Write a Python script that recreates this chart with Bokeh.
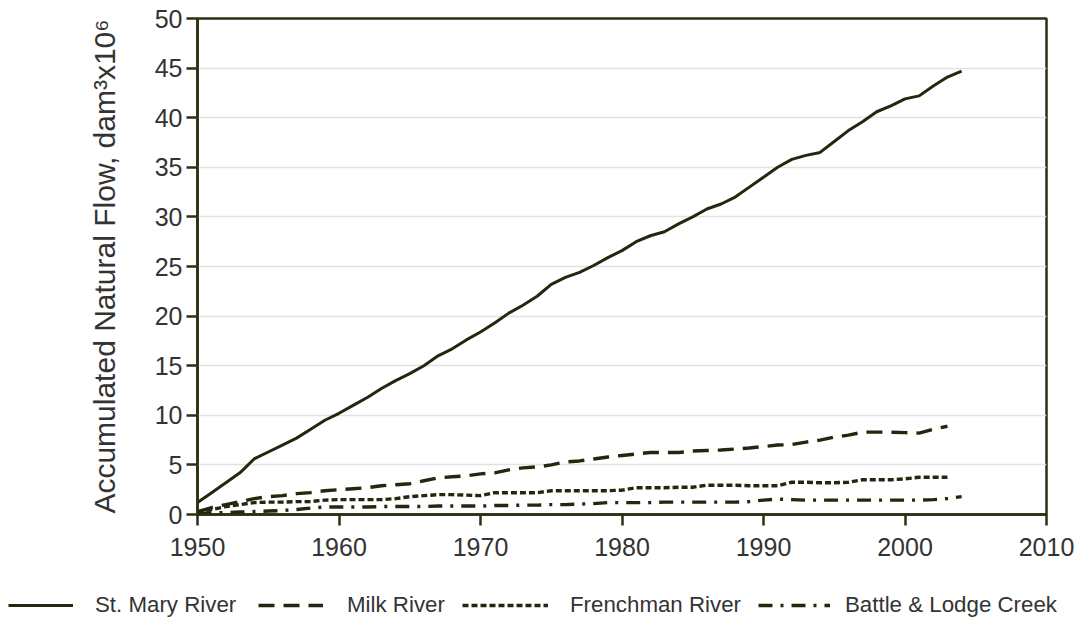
from bokeh.plotting import figure
from bokeh.models import Legend, LegendItem, FixedTicker, Range1d
from bokeh.layouts import column
from bokeh.embed import file_html
from bokeh.resources import INLINE

years = list(range(1950, 2005))
st_mary = [1.2, 2.2, 3.2, 4.2, 5.6, 6.3, 7.0, 7.7, 8.6, 9.5,
           10.2, 11.0, 11.8, 12.7, 13.5, 14.2, 15.0, 16.0, 16.7, 17.6,
           18.4, 19.3, 20.3, 21.1, 22.0, 23.2, 23.9, 24.4, 25.1, 25.9,
           26.6, 27.5, 28.1, 28.5, 29.3, 30.0, 30.8, 31.3, 32.0, 33.0,
           34.0, 35.0, 35.8, 36.2, 36.5, 37.6, 38.7, 39.6, 40.6, 41.2,
           41.9, 42.2, 43.2, 44.1, 44.7]
years_short = list(range(1950, 2004))
milk = [0.3, 0.7, 1.0, 1.3, 1.6, 1.8, 1.9, 2.1, 2.2, 2.4,
        2.5, 2.6, 2.7, 2.9, 3.0, 3.1, 3.4, 3.7, 3.8, 3.9,
        4.1, 4.2, 4.5, 4.7, 4.8, 5.0, 5.3, 5.4, 5.6, 5.8,
        5.95, 6.1, 6.25, 6.25, 6.25, 6.4, 6.45, 6.5, 6.6, 6.7,
        6.85, 7.0, 7.05, 7.3, 7.5, 7.8, 8.0, 8.3, 8.3, 8.3,
        8.25, 8.2, 8.6, 8.9]
frenchman = [0.2, 0.5, 0.8, 1.0, 1.2, 1.25, 1.25, 1.3, 1.3, 1.45,
             1.5, 1.5, 1.5, 1.5, 1.6, 1.8, 1.9, 2.0, 2.0, 1.95,
             1.9, 2.2, 2.2, 2.2, 2.2, 2.4, 2.4, 2.4, 2.4, 2.4,
             2.45, 2.7, 2.7, 2.7, 2.75, 2.75, 2.95, 2.95, 2.95, 2.9,
             2.9, 2.9, 3.25, 3.25, 3.2, 3.2, 3.25, 3.5, 3.5, 3.5,
             3.6, 3.75, 3.75, 3.75]
battle = [0.1, 0.15, 0.2, 0.25, 0.3, 0.35, 0.4, 0.5, 0.65, 0.75,
          0.75, 0.75, 0.75, 0.8, 0.8, 0.8, 0.8, 0.85, 0.85, 0.85,
          0.85, 0.9, 0.9, 0.95, 0.95, 1.0, 1.0, 1.05, 1.1, 1.2,
          1.2, 1.2, 1.2, 1.25, 1.25, 1.25, 1.25, 1.25, 1.25, 1.3,
          1.45, 1.55, 1.5, 1.45, 1.45, 1.45, 1.45, 1.45, 1.45, 1.45,
          1.45, 1.45, 1.5, 1.6, 1.8]

series_names = ["St. Mary River", "Milk River", "Frenchman River", "Battle & Lodge Creek"]
x_ticks = [1950, 1960, 1970, 1980, 1990, 2000, 2010]
y_ticks = [0, 5, 10, 15, 20, 25, 30, 35, 40, 45, 50]

LINE = "#26260f"
AXIS = "#2e2e12"
TEXT = "#333333"
FONT = "Liberation Sans"

styles = [dict(line_width=3.0, line_dash="solid"),
          dict(line_width=3.4, line_dash="16 9"),
          dict(line_width=3.4, line_dash="6 3"),
          dict(line_width=3.4, line_dash="14 8 3 8")]
series_x = [years, years_short, years_short, years]
series_y = [st_mary, milk, frenchman, battle]

# ---- main chart ----
p = figure(frame_width=849, frame_height=496,
           min_border_left=197, min_border_right=40,
           min_border_top=18, min_border_bottom=70,
           x_range=Range1d(1950, 2010), y_range=Range1d(0, 50),
           output_backend="svg", toolbar_location=None)

p.outline_line_color = AXIS
p.outline_line_width = 2.5
p.background_fill_color = "white"
p.border_fill_color = "white"

p.xgrid.grid_line_color = None
p.ygrid.grid_line_color = "#e2e2e2"
p.ygrid.grid_line_width = 1.5

p.xaxis.ticker = FixedTicker(ticks=x_ticks)
p.yaxis.ticker = FixedTicker(ticks=y_ticks)
for ax in (p.xaxis, p.yaxis):
    ax.axis_line_color = AXIS
    ax.axis_line_width = 2.5
    ax.major_tick_line_color = AXIS
    ax.major_tick_line_width = 2.5
    ax.major_tick_in = 0
    ax.major_tick_out = 11
    ax.minor_tick_line_color = None
    ax.major_label_text_font = FONT
    ax.major_label_text_font_size = "25px"
    ax.major_label_text_color = TEXT
p.xaxis.major_label_standoff = 12
p.yaxis.major_label_standoff = 4

p.yaxis.axis_label = "Accumulated Natural Flow, dam\u00b3x10\u2076"
p.yaxis.axis_label_text_font = FONT
p.yaxis.axis_label_text_font_size = "30px"
p.yaxis.axis_label_text_font_style = "normal"
p.yaxis.axis_label_text_color = TEXT
p.yaxis.axis_label_standoff = 31

for xs, ys, st in zip(series_x, series_y, styles):
    p.line(xs, ys, line_color=LINE, **st)

# ---- legend strip (same series, kept out of view; only the keys show) ----
lg = figure(frame_width=1086, frame_height=34,
            min_border_left=0, min_border_right=0,
            min_border_top=0, min_border_bottom=0,
            x_range=Range1d(1950, 2010), y_range=Range1d(1000, 1001),
            x_axis_type=None, y_axis_type=None,
            output_backend="svg", toolbar_location=None)
lg.outline_line_color = None
lg.xgrid.grid_line_color = None
lg.ygrid.grid_line_color = None
lg.border_fill_color = "white"

legend_x = [8, 258, 462, 758]
glyph_w = [65, 65, 86, 72]
standoff = [22, 24, 22, 15]
for name, xs, ys, st, lx, gw, so in zip(series_names, series_x, series_y,
                                         styles, legend_x, glyph_w, standoff):
    r = lg.line(xs, ys, line_color=LINE, **st)
    leg = Legend(items=[LegendItem(label=name, renderers=[r])],
                 location=(lx, 0), orientation="horizontal")
    leg.label_text_font = FONT
    leg.label_text_font_size = "22.3px"
    leg.label_text_color = TEXT
    leg.glyph_width = gw
    leg.glyph_height = 24
    leg.label_height = 24
    leg.label_standoff = so
    leg.padding = 0
    leg.margin = 0
    leg.border_line_alpha = 0
    leg.background_fill_alpha = 0
    lg.add_layout(leg, "center")

layout = column(p, lg, spacing=0)
open("out.html", "w").write(file_html(layout, INLINE))
